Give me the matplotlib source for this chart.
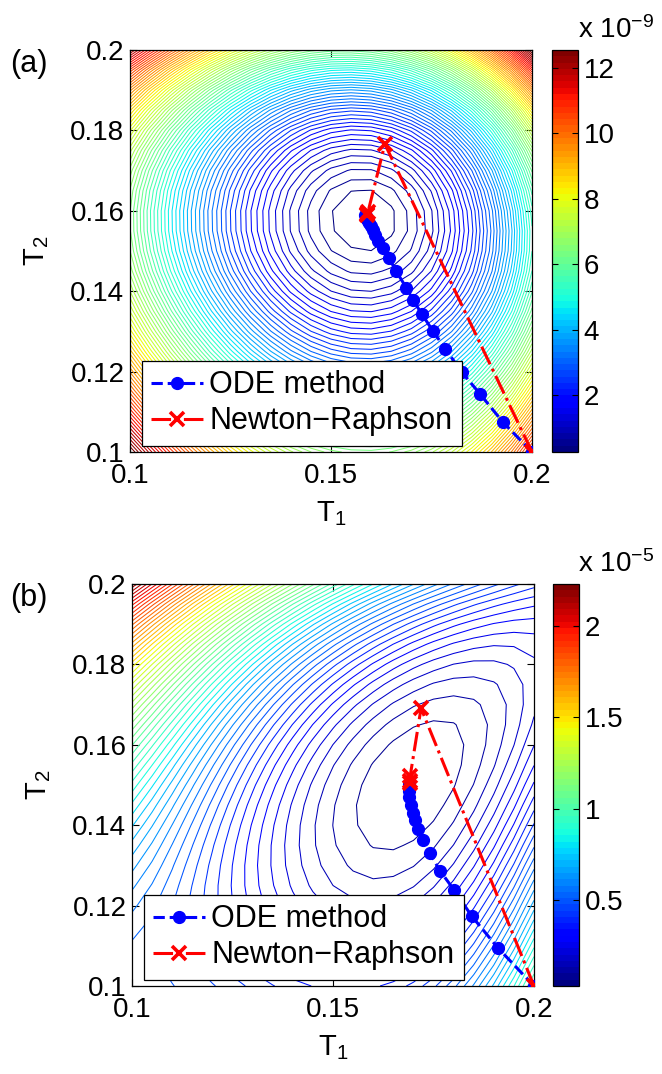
import numpy as np
import matplotlib
matplotlib.use("Agg")
import matplotlib.pyplot as plt
from matplotlib.colors import Normalize
from matplotlib.cm import ScalarMappable

plt.rcParams['font.family'] = ['Liberation Sans', 'DejaVu Sans']
plt.rcParams['mathtext.fontset'] = 'custom'
plt.rcParams['mathtext.rm'] = 'Liberation Sans'
plt.rcParams['mathtext.it'] = 'Liberation Sans'

# ---------------- values ----------------
# panel (a): objective surface (x1e-9), nearly round bowl, steeper toward large T
A_MIN_T1, A_MIN_T2, A_MIN_VAL = 0.1585, 0.158, 0.25
A_BOWL_T1, A_SKEW_T1 = 2300.0, 3.57   # curvature / asymmetry along T1
A_BOWL_T2, A_SKEW_T2 = 2588.0, 5.08   # curvature / asymmetry along T2
A_CORNER = 2.3         # extra rise reached in the (0.2, 0.2) corner
A_CORNER_SOFT = 0.005
A_CORNER_POW = 2.2
A_CMIN, A_CMAX = 0.26, 12.55
A_CTICKS = [2, 4, 6, 8, 10, 12]
A_NLEV = 80

# panel (b): objective values (x1e-5) on a coarse grid, rows = T2, cols = T1
GRID_T = [0.1, 0.125, 0.15, 0.175, 0.2]
B_SAMPLES = [
    [0.50, 0.42, 0.38, 0.47, 1.00],
    [0.62, 0.42, 0.20, 0.20, 0.66],
    [0.88, 0.50, 0.08, 0.04, 0.33],
    [1.30, 0.90, 0.38, 0.10, 0.22],
    [2.23, 1.45, 1.00, 0.65, 0.38],
]
B_MIN_T1, B_MIN_T2, B_MIN_VAL = 0.1692, 0.1505, 0.03
B_RING_T1 = [0.1791, 0.1816, 0.1826, 0.1799, 0.1749, 0.1634, 0.1575, 0.1551, 0.1584, 0.1667]
B_RING_T2 = [0.1655, 0.1629, 0.1579, 0.1488, 0.1405, 0.1326, 0.1347, 0.1488, 0.1545, 0.1620]
B_CMIN, B_CMAX = 0.03, 2.23
B_CTICKS = [0.5, 1, 1.5, 2]
B_NLEV = 60

# trajectories
A_ODE_T1 = [0.2, 0.1927, 0.1871, 0.1826, 0.1784, 0.1753, 0.1726, 0.1705, 0.1687, 0.1662,
            0.1644, 0.1629, 0.1618, 0.1610, 0.1604, 0.1599, 0.1595, 0.1592, 0.1590, 0.1588,
            0.1587, 0.1586, 0.1585]
A_ODE_T2 = [0.1, 0.1075, 0.1144, 0.1198, 0.1257, 0.1302, 0.1343, 0.1377, 0.1409, 0.1450,
            0.1483, 0.1507, 0.1525, 0.1540, 0.1552, 0.1562, 0.1569, 0.1575, 0.1579, 0.1582,
            0.1585, 0.1587, 0.1589]
A_NR_T1 = [0.2, 0.1634, 0.1592, 0.1589, 0.1589]
A_NR_T2 = [0.1, 0.1766, 0.1597, 0.1592, 0.1590]

B_ODE_T1 = [0.2, 0.1910, 0.1845, 0.1801, 0.1766, 0.1741, 0.1723, 0.1712, 0.1704, 0.1698,
            0.1693, 0.1690, 0.1688, 0.1688, 0.1688]
B_ODE_T2 = [0.1, 0.1095, 0.1174, 0.1239, 0.1287, 0.1330, 0.1363, 0.1390, 0.1413, 0.1431,
            0.1450, 0.1470, 0.1485, 0.1495, 0.1502]
B_NR_T1 = [0.2, 0.1719, 0.1692, 0.1692, 0.1692]
B_NR_T2 = [0.1, 0.1691, 0.1522, 0.1510, 0.1506]

LEG_LABELS = ['ODE method', 'Newton\u2212Raphson']
GRID_STEP = 0.005


def grid():
    t = np.arange(0.1, 0.2 + 1e-9, GRID_STEP)
    return np.meshgrid(t, t)


def surface_a():
    X, Y = grid()
    dx = X - A_MIN_T1
    dy = Y - A_MIN_T2
    bowl = (A_BOWL_T1 * dx**2 * (1 + A_SKEW_T1 * dx)
            + A_BOWL_T2 * dy**2 * (1 + A_SKEW_T2 * dy))

    def ramp(d):
        return A_CORNER_SOFT * np.log1p(np.exp(d / A_CORNER_SOFT))
    s_max = (0.2 - A_MIN_T1) + (0.2 - A_MIN_T2)
    corner = A_CORNER * (ramp(dx + dy) / ramp(s_max)) ** A_CORNER_POW
    return X, Y, A_MIN_VAL + bowl + corner


def surface_b(ring_val):
    gx, gy = np.meshgrid(GRID_T, GRID_T)
    cx, cy = B_MIN_T1, B_MIN_T2
    xs = np.concatenate([gx.ravel(), [cx], B_RING_T1])
    ys = np.concatenate([gy.ravel(), [cy], B_RING_T2])
    zs = np.concatenate([np.asarray(B_SAMPLES).ravel(), [B_MIN_VAL],
                         np.full(len(B_RING_T1), ring_val)])
    w = np.concatenate([np.ones(gx.size), [30.0], np.full(len(B_RING_T1), 10.0)])

    def basis(x, y):
        dx = (x - cx) / 0.05
        dy = (y - cy) / 0.05
        return np.stack([np.ones_like(dx), dx**2, dx*dy, dy**2,
                         dx**3, dx**2*dy, dx*dy**2, dy**3,
                         dx**4, dx**3*dy, dx**2*dy**2, dx*dy**3, dy**4], axis=-1)
    M = basis(xs, ys) * w[:, None]
    coef, *_ = np.linalg.lstsq(M, zs * w, rcond=None)
    X, Y = grid()
    return X, Y, basis(X, Y) @ coef


fig = plt.figure(figsize=(6.62, 10.74), dpi=100)
W, H = 662.0, 1074.0
cmap = plt.get_cmap('jet', 64)


def draw_panel(ax_px, cb_px, surf, cmin, cmax, cticks, nlev,
               ode_x, ode_y, nr_x, nr_y, tag, expo):
    l, t, r, b = ax_px
    ax = fig.add_axes([l / W, 1 - b / H, (r - l) / W, (b - t) / H])
    X, Y, Z = surf
    norm = Normalize(cmin, cmax)
    levels = np.linspace(cmin, cmax, nlev + 2)[1:-1]
    ax.contour(X, Y, Z, levels=levels, cmap=cmap, norm=norm, linewidths=0.75)
    ax.plot(ode_x, ode_y, '--', color='#0000ff', marker='o', ms=8.5, lw=2.2,
            label=LEG_LABELS[0], zorder=5)
    ax.plot(nr_x, nr_y, '-.', color='#ff0000', marker='x', ms=10, mew=2.6, lw=2.2,
            label=LEG_LABELS[1], zorder=6)
    ax.set_xlim(0.1, 0.2)
    ax.set_ylim(0.1, 0.2)
    ax.set_xticks([0.1, 0.15, 0.2])
    ax.set_xticklabels(['0.1', '0.15', '0.2'])
    ax.set_yticks([0.1, 0.12, 0.14, 0.16, 0.18, 0.2])
    ax.set_yticklabels(['0.1', '0.12', '0.14', '0.16', '0.18', '0.2'])
    ax.tick_params(direction='in', top=True, right=True, length=5, width=0.8,
                   labelsize=20, pad=4)
    ax.tick_params(axis='x', pad=8)
    for s in ax.spines.values():
        s.set_linewidth(0.9)
    ax.set_xlabel(r'T$_{\mathregular{1}}$', fontsize=21, labelpad=7)
    ax.set_ylabel(r'T$_{\mathregular{2}}$', fontsize=21, labelpad=14)
    leg = ax.legend(loc='lower left', bbox_to_anchor=(0.03, 0.016), fontsize=22,
                    handlelength=1.7, handletextpad=0.2, borderpad=0.3,
                    labelspacing=0.2, borderaxespad=0.0, fancybox=False,
                    framealpha=1.0, edgecolor='black')
    leg.get_frame().set_linewidth(0.9)
    leg.set_zorder(10)

    cl, ct, cr, cb = cb_px
    cax = fig.add_axes([cl / W, 1 - cb / H, (cr - cl) / W, (cb - ct) / H])
    sm = ScalarMappable(norm=norm, cmap=cmap)
    cbar = fig.colorbar(sm, cax=cax, ticks=cticks)
    cbar.ax.set_yticklabels([('%g' % v) for v in cticks])
    cbar.ax.tick_params(direction='in', length=4, width=0.8, labelsize=20,
                        left=True, right=True, pad=4)
    cbar.outline.set_linewidth(0.9)
    fig.text(578 / W, 1 - (ct - 6) / H, r'x 10$^{\mathregular{%s}}$' % expo,
             fontsize=20, ha='left', va='bottom')
    fig.text(10 / W, 1 - (t + 14) / H, tag, fontsize=22, ha='left', va='center')
    return ax


draw_panel((130, 50, 532, 452), (552, 50, 578, 452), surface_a(),
           A_CMIN, A_CMAX, A_CTICKS, A_NLEV,
           A_ODE_T1, A_ODE_T2, A_NR_T1, A_NR_T2, '(a)', '\u22129')
draw_panel((132, 584, 534, 986), (553, 584, 579, 986),
           surface_b(B_MIN_VAL + (B_CMAX - B_CMIN) / (B_NLEV + 1)),
           B_CMIN, B_CMAX, B_CTICKS, B_NLEV,
           B_ODE_T1, B_ODE_T2, B_NR_T1, B_NR_T2, '(b)', '\u22125')

fig.savefig('out.png', dpi=100)
